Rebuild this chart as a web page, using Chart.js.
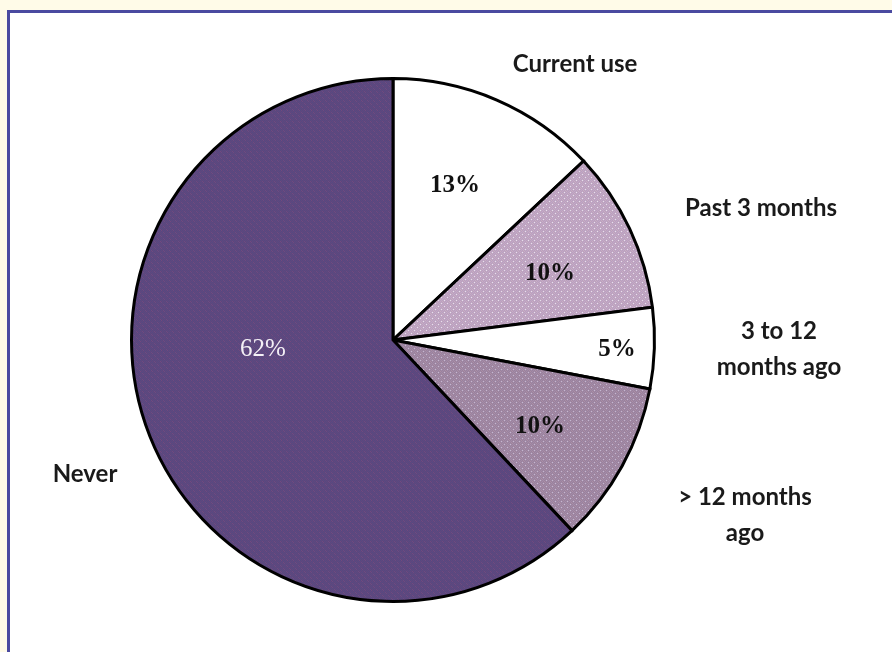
<!DOCTYPE html>
<html>
<head>
<meta charset="utf-8">
<script src="https://cdn.jsdelivr.net/npm/chart.js@4.4.1/dist/chart.umd.min.js"></script>
<style>
  html, body { margin: 0; padding: 0; background: #fffbe8; }
  #frame {
    position: absolute; left: 7px; top: 10px; width: 885px; height: 642px;
    background: #ffffff; border-left: 3px solid #4a4aa0; border-top: 3px solid #4a4aa0;
    box-sizing: border-box;
  }
  #pie { position: absolute; left: 0; top: 0; }
</style>
</head>
<body>
<div id="frame"></div>
<canvas id="pie" width="892" height="652"></canvas>
<script>
// categories and shares, clockwise from 12 o'clock
const categories = ['Current use', 'Past 3 months', '3 to 12 months ago', '> 12 months ago', 'Never'];
const shares = [13, 10, 5, 10, 62];
const pctLabels = ['13%', '10%', '5%', '10%', '62%'];

// name text lines drawn around the pie
const nameLines = [['Current use'], ['Past 3 months'], ['3 to 12', 'months ago'], ['> 12 months', 'ago'], ['Never']];
const nameAnchor = [[575, 64], [761, 208], [779, 331], [745, 497], [85, 474]];
const pctAnchor = [[455, 186], [550, 274], [617, 350], [540, 427], [263, 349]];
const pctColor = ['#111', '#111', '#111', '#111', '#f4f0f6'];

// small dithered fills like the old halftone shading
function makePattern(base, a, b, dot) {
  const c = document.createElement('canvas');
  c.width = 6; c.height = 6;
  const g = c.getContext('2d');
  g.fillStyle = base; g.fillRect(0, 0, 6, 6);
  for (let y = 0; y < 6; y++) {
    for (let x = 0; x < 6; x++) {
      if ((x + y) % 2 === 0) { g.fillStyle = a; g.fillRect(x, y, 1, 1); }
      else if ((x * y) % 3 === 1) { g.fillStyle = b; g.fillRect(x, y, 1, 1); }
    }
  }
  if (dot) { g.fillStyle = dot; g.fillRect(0, 0, 1, 1); g.fillRect(3, 3, 1, 1); }
  return g.createPattern(c, 'repeat');
}

const fills = [
  '#ffffff',
  makePattern('#c4a8c4', '#b8a0c0', '#caaec0', '#e6e0ec'),
  '#ffffff',
  makePattern('#a48aa6', '#98829e', '#ac8ea4', '#c4b8d0'),
  makePattern('#62487c', '#564882', '#744a7c', null)
];

const labelPlugin = {
  id: 'pieText',
  afterDatasetsDraw(chart) {
    const ctx = chart.ctx;
    ctx.save();
    ctx.textAlign = 'center';
    ctx.textBaseline = 'middle';
    ctx.font = 'bold 24px Lato';
    ctx.fillStyle = '#1a1a1a';
    nameLines.forEach((lines, i) => {
      lines.forEach((t, j) => ctx.fillText(t, nameAnchor[i][0], nameAnchor[i][1] + j * 36));
    });
    pctLabels.forEach((t, i) => {
      ctx.font = (i === 4 ? '' : 'bold ') + '25px "Liberation Serif"';
      ctx.fillStyle = pctColor[i];
      ctx.fillText(t, pctAnchor[i][0], pctAnchor[i][1]);
    });
    ctx.restore();
  }
};

new Chart(document.getElementById('pie'), {
  type: 'pie',
  data: {
    labels: categories,
    datasets: [{
      data: shares,
      backgroundColor: fills,
      borderColor: '#000000',
      borderWidth: 3,
      borderJoinStyle: 'miter'
    }]
  },
  options: {
    responsive: false,
    animation: false,
    layout: { padding: { left: 130, right: 236, top: 77, bottom: 49 } },
    plugins: { legend: { display: false }, tooltip: { enabled: false } }
  },
  plugins: [labelPlugin]
});
</script>
</body>
</html>
